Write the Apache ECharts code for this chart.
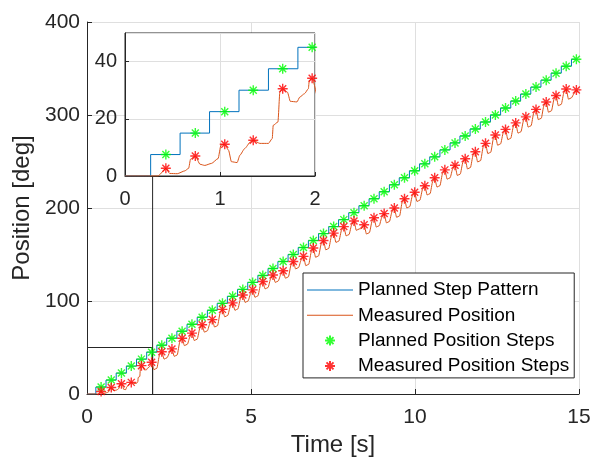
<!DOCTYPE html>
<html>
<head>
<meta charset="utf-8">
<script src="https://cdn.jsdelivr.net/npm/echarts@6/dist/echarts.min.js"></script>
<style>
  html, body { margin: 0; padding: 0; background: #fff; }
  #chart { width: 601px; height: 463px; }
</style>
</head>
<body>
<div id="chart"></div>
<script>
// sample times of the step markers [s]
const stepTimes = [0.43, 0.74, 1.05, 1.35, 1.66, 1.97, 2.28, 2.59, 2.90, 3.20, 3.51, 3.82,
    4.13, 4.44, 4.75, 5.05, 5.36, 5.67, 5.98, 6.29, 6.60, 6.90, 7.21, 7.52,
    7.83, 8.14, 8.45, 8.75, 9.06, 9.37, 9.68, 9.99, 10.30, 10.60, 10.91, 11.22,
    11.53, 11.84, 12.15, 12.45, 12.76, 13.07, 13.38, 13.69, 14.00, 14.30, 14.61, 14.92];
// times at which the planned pattern jumps to the next level [s]
const jumpTimes = [0.27, 0.58, 0.89, 1.20, 1.51, 1.82, 2.13, 2.43, 2.74, 3.05, 3.36, 3.67,
    3.97, 4.28, 4.59, 4.90, 5.21, 5.52, 5.82, 6.13, 6.44, 6.75, 7.06, 7.37,
    7.67, 7.98, 8.29, 8.60, 8.91, 9.22, 9.52, 9.83, 10.14, 10.45, 10.76, 11.07,
    11.37, 11.68, 11.99, 12.30, 12.61, 12.92, 13.22, 13.53, 13.84, 14.15, 14.46, 14.77];
const plannedSteps = [7.5, 15, 22.5, 30, 37.5, 45, 52.5, 60, 67.5, 75, 82.5, 90,
    97.5, 105, 112.5, 120, 127.5, 135, 142.5, 150, 157.5, 165, 172.5, 180,
    187.5, 195, 202.5, 210, 217.5, 225, 232.5, 240, 247.5, 255, 262.5, 270,
    277.5, 285, 292.5, 300, 307.5, 315, 322.5, 330, 337.5, 345, 352.5, 360];
const measuredSteps = [2.7, 7, 11.1, 12.5, 30.5, 34.2, 45.5, 48.5, 60, 65.5, 74.5, 80,
    91, 98, 106.5, 112, 121, 128, 132.5, 142.5, 148, 157, 165, 173,
    180, 186, 182, 189.5, 194, 200, 210, 217, 224, 232.5, 241, 246,
    253, 260.5, 269.5, 278.5, 284.5, 291.5, 298, 306, 314, 321, 328, 327];
const plannedEnd = [14.95, 360];

// measured position trace [t, deg]
const measuredCurve = [
    [0, 0], [0.35, 0], [0.38, 1], [0.43, 2.7], [0.47, 0.9], [0.55, 0.8], [0.63, 1.8], [0.67, 2.7],
    [0.69, 5.9], [0.74, 7], [0.79, 4.1], [0.84, 3.7], [0.91, 4.4], [0.98, 6.1], [1.01, 10.8], [1.05, 11.1],
    [1.09, 9], [1.12, 5], [1.18, 4.7], [1.21, 7.3], [1.26, 9.6], [1.32, 11.9], [1.35, 12.5], [1.42, 11.4],
    [1.51, 11.4], [1.55, 13.1], [1.56, 17.7], [1.61, 18.9], [1.63, 29.3], [1.66, 30.5], [1.71, 29.3], [1.74, 26.1],
    [1.81, 25.9], [1.84, 27.6], [1.89, 28.8], [1.93, 30.5], [1.94, 33.4], [1.97, 34.2],
    [2.04, 26.2], [2.13, 27.7], [2.21, 41.5], [2.28, 45.5],
    [2.35, 37.5], [2.44, 39], [2.52, 44.5], [2.59, 48.5],
    [2.66, 40.5], [2.75, 42], [2.83, 56], [2.90, 60],
    [2.97, 52], [3.06, 53.5], [3.14, 61.5], [3.20, 65.5],
    [3.27, 57.5], [3.36, 59], [3.44, 70.5], [3.51, 74.5],
    [3.58, 66.5], [3.67, 68], [3.75, 76], [3.82, 80],
    [3.89, 72], [3.98, 73.5], [4.06, 87], [4.13, 91],
    [4.20, 83], [4.29, 84.5], [4.37, 94], [4.44, 98],
    [4.51, 90], [4.60, 91.5], [4.68, 102.5], [4.75, 106.5],
    [4.82, 98.5], [4.91, 100], [4.99, 108], [5.05, 112],
    [5.12, 104], [5.21, 105.5], [5.29, 117], [5.36, 121],
    [5.43, 113], [5.52, 114.5], [5.60, 124], [5.67, 128],
    [5.74, 120], [5.83, 121.5], [5.91, 128.5], [5.98, 132.5],
    [6.05, 124.5], [6.14, 126], [6.22, 138.5], [6.29, 142.5],
    [6.36, 134.5], [6.45, 136], [6.53, 144], [6.60, 148],
    [6.67, 138], [6.76, 139.5], [6.84, 153], [6.90, 157],
    [6.97, 147], [7.06, 148.5], [7.14, 161], [7.21, 165],
    [7.28, 155], [7.37, 156.5], [7.45, 169], [7.52, 173],
    [7.59, 163], [7.68, 164.5], [7.76, 176], [7.83, 180],
    [7.90, 170], [7.99, 171.5], [8.07, 182], [8.14, 186],
    [8.21, 176], [8.30, 177.5], [8.38, 178], [8.45, 182],
    [8.52, 172], [8.61, 173.5], [8.69, 185.5], [8.75, 189.5],
    [8.82, 179.5], [8.91, 181], [8.99, 190], [9.06, 194],
    [9.13, 184], [9.22, 185.5], [9.30, 196], [9.37, 200],
    [9.44, 190], [9.53, 191.5], [9.61, 206], [9.68, 210],
    [9.75, 200], [9.84, 201.5], [9.92, 213], [9.99, 217],
    [10.06, 207], [10.15, 208.5], [10.23, 220], [10.30, 224],
    [10.37, 214], [10.46, 215.5], [10.54, 228.5], [10.60, 232.5],
    [10.67, 222.5], [10.76, 224], [10.84, 237], [10.91, 241],
    [10.98, 231], [11.07, 232.5], [11.15, 242], [11.22, 246],
    [11.29, 235], [11.38, 236.5], [11.46, 249], [11.53, 253],
    [11.60, 242], [11.69, 243.5], [11.77, 256.5], [11.84, 260.5],
    [11.91, 249.5], [12.00, 251], [12.08, 265.5], [12.15, 269.5],
    [12.22, 258.5], [12.31, 260], [12.39, 274.5], [12.45, 278.5],
    [12.52, 267.5], [12.61, 269], [12.69, 280.5], [12.76, 284.5],
    [12.83, 273.5], [12.92, 275], [13.00, 287.5], [13.07, 291.5],
    [13.14, 280.5], [13.23, 282], [13.31, 294], [13.38, 298],
    [13.45, 287], [13.54, 288.5], [13.62, 302], [13.69, 306],
    [13.76, 295], [13.85, 296.5], [13.93, 310], [14.00, 314],
    [14.07, 303], [14.16, 304.5], [14.24, 317], [14.30, 321],
    [14.37, 310], [14.46, 311.5], [14.54, 324], [14.61, 328],
    [14.68, 317], [14.77, 318.5], [14.85, 323], [14.92, 327],
    [14.97, 324]
];

// zoomed region shown in the inset, and where its connector meets the inset
const insetX = [0, 2];
const insetY = [0, 50];
const connectorTop = 250;

const FONT = 'Liberation Sans, Arial, Helvetica, sans-serif';
const TXT = '#262626';
const GRIDC = '#dfdfdf';
const BLUE = '#0072BD', ORANGE = '#D95319', GREEN = '#00FF00', RED = '#FF0000';
const ASTERISK = 'path://M0,-10L0,10M-10,0L10,0M-7,-7L7,7M-7,7L7,-7';
const LEGEND_LINE = 'path://M0,0H46V1H0Z';

const plannedLine = [[0, 0]].concat(jumpTimes.map((t, i) => [t, plannedSteps[i]]), [plannedEnd]);
const plannedPts = stepTimes.map((t, i) => [t, plannedSteps[i]]);
const measuredPts = stepTimes.map((t, i) => [t, measuredSteps[i]]);
const zoomBox = [[insetX[0], insetY[1]], [insetX[1], insetY[1]], [insetX[1], insetY[0]], [insetX[1], connectorTop]];

function makeSeries(axisIdx, z) {
    return [
        { name: 'Planned Step Pattern', type: 'line', xAxisIndex: axisIdx, yAxisIndex: axisIdx, z: z,
          data: plannedLine, step: 'end', symbol: 'none', showSymbol: false,
          lineStyle: { color: BLUE, width: 1 }, itemStyle: { color: BLUE } },
        { name: 'Measured Position', type: 'line', xAxisIndex: axisIdx, yAxisIndex: axisIdx, z: z,
          data: measuredCurve, smooth: 0.2, smoothMonotone: 'x', symbol: 'none', showSymbol: false,
          lineStyle: { color: ORANGE, width: 1 }, itemStyle: { color: ORANGE } },
        { name: 'Planned Position Steps', type: 'scatter', xAxisIndex: axisIdx, yAxisIndex: axisIdx, z: z,
          data: plannedPts, symbol: ASTERISK, symbolSize: 10,
          itemStyle: { color: GREEN, borderColor: GREEN, borderWidth: 1.4 } },
        { name: 'Measured Position Steps', type: 'scatter', xAxisIndex: axisIdx, yAxisIndex: axisIdx, z: z,
          data: measuredPts, symbol: ASTERISK, symbolSize: 10,
          itemStyle: { color: RED, borderColor: RED, borderWidth: 1.4 } }
    ];
}

const chart = echarts.init(document.getElementById('chart'), null, { renderer: 'canvas' });

const option = {
    animation: false,
    backgroundColor: '#fff',
    textStyle: { fontFamily: FONT },
    grid: [
        { left: 87, top: 22, width: 492, height: 372 },
        { left: 125, top: 33, width: 190, height: 143, z: 9, show: true,
          backgroundColor: '#fff', borderColor: TXT, borderWidth: 1 }
    ],
    xAxis: [
        { type: 'value', gridIndex: 0, min: 0, max: 15, interval: 5,
          name: 'Time [s]', nameLocation: 'middle', nameGap: 33,
          nameTextStyle: { fontSize: 24, color: TXT, fontFamily: FONT },
          axisLine: { lineStyle: { color: TXT, width: 1 } },
          axisTick: { inside: true, length: 5, lineStyle: { color: TXT } },
          axisLabel: { fontSize: 21, color: TXT, margin: 13, fontFamily: FONT },
          splitLine: { show: true, lineStyle: { color: GRIDC, width: 1 } } },
        { type: 'value', gridIndex: 1, min: 0, max: 2, interval: 1, z: 10,
          axisLine: { lineStyle: { color: TXT, width: 1 } },
          axisTick: { inside: true, length: 4, lineStyle: { color: TXT } },
          axisLabel: { fontSize: 20, color: TXT, margin: 13, fontFamily: FONT },
          splitLine: { show: true, lineStyle: { color: GRIDC, width: 1 } } }
    ],
    yAxis: [
        { type: 'value', gridIndex: 0, min: 0, max: 400, interval: 100,
          name: 'Position [deg]', nameLocation: 'middle', nameGap: 44,
          nameTextStyle: { fontSize: 24, color: TXT, fontFamily: FONT },
          axisLine: { show: true, lineStyle: { color: TXT, width: 1 } },
          axisTick: { show: true, inside: true, length: 5, lineStyle: { color: TXT } },
          axisLabel: { fontSize: 21, color: TXT, margin: 7, fontFamily: FONT },
          splitLine: { show: true, lineStyle: { color: GRIDC, width: 1 } } },
        { type: 'value', gridIndex: 1, min: 0, max: 50, interval: 20, z: 10,
          axisLine: { show: true, lineStyle: { color: TXT, width: 1 } },
          axisTick: { show: true, inside: true, length: 4, lineStyle: { color: TXT } },
          axisLabel: { fontSize: 20, color: TXT, margin: 8, showMaxLabel: false, fontFamily: FONT },
          splitLine: { show: true, lineStyle: { color: GRIDC, width: 1 } } }
    ],
    legend: {
        data: [
            { name: 'Planned Step Pattern', icon: LEGEND_LINE },
            { name: 'Measured Position', icon: LEGEND_LINE },
            { name: 'Planned Position Steps' },
            { name: 'Measured Position Steps' }
        ],
        orient: 'vertical', left: 303, top: 273,
        itemWidth: 46, itemHeight: 10, itemGap: 5.3,
        padding: [7, 5, 2, 4],
        backgroundColor: '#fff', borderColor: TXT, borderWidth: 1, borderRadius: 0,
        textStyle: { fontSize: 19, lineHeight: 20, color: '#000', fontFamily: FONT }
    },
    series: [
        { type: 'line', xAxisIndex: 0, yAxisIndex: 0, data: zoomBox, symbol: 'none', silent: true,
          lineStyle: { color: TXT, width: 1 }, z: 1 }
    ].concat(makeSeries(0, 2), makeSeries(1, 11))
};

chart.setOption(option);
</script>
</body>
</html>
